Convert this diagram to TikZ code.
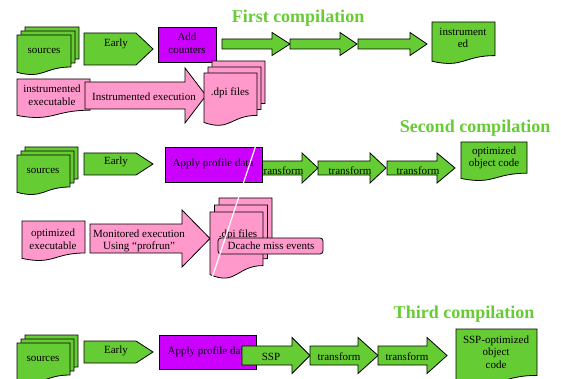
\documentclass[tikz,border=0pt]{standalone}
\usepackage{fontspec}
\setmainfont{Liberation Serif}
\definecolor{leaf}{RGB}{102,204,51}
\definecolor{purpl}{RGB}{204,0,255}
\definecolor{rose}{RGB}{255,153,204}

% document shape: style, x1, y1, x2, y2
\newcommand{\docshape}[5]{%
  \draw[#1] (#2,#3) -- (#4,#3) -- ({#4},{(#3)+0.8*((#5)-(#3))})
    .. controls ({((#2)+(#4))/2},{(#3)+0.8*((#5)-(#3))}) and ({((#2)+(#4))/2},{(#3)+1.107*((#5)-(#3))})
    .. ({#2},{(#3)+0.934*((#5)-(#3))}) -- cycle;}
% three stacked documents: style, x1, y1, x2, y2, dx, dy
\newcommand{\docstack}[7]{%
  \docshape{#1}{#2+2*#6}{#3-2*#7}{#4+2*#6}{#5-2*#7}
  \docshape{#1}{#2+#6}{#3-#7}{#4+#6}{#5-#7}
  \docshape{#1}{#2}{#3}{#4}{#5}}
% block arrow: style, x1, head x, tip x, y centre, body half, head half
\newcommand{\blockarrow}[7]{%
  \draw[#1] (#2,{#5-#6}) -- (#3,{#5-#6}) -- (#3,{#5-#7}) -- (#4,#5)
    -- (#3,{#5+#7}) -- (#3,{#5+#6}) -- (#2,{#5+#6}) -- cycle;}
% pentagon arrow: style, x1, y1, point x, tip x, y2
\newcommand{\pentarrow}[6]{%
  \draw[#1] (#2,#3) -- (#4,#3) -- (#5,{(#3+#6)/2}) -- (#4,#6) -- (#2,#6) -- cycle;}

\begin{document}
\begin{tikzpicture}[
  x=1pt, y=-1pt,
  greenshape/.style={draw=black, fill=leaf, line width=0.8pt},
  pinkshape/.style={draw=black, fill=rose, line width=0.8pt},
  purpshape/.style={draw=black, fill=purpl, line width=0.8pt},
  lbl/.style={align=center, inner sep=0pt, font=\fontsize{11}{12.5}\selectfont},
  title/.style={text=leaf, inner sep=0pt, font=\fontsize{18}{20}\selectfont\bfseries}
]
\useasboundingbox (0,0) rectangle (561,379);

% first compilation
\node[title] (t1) at (298,18) {First compilation};
\docstack{greenshape}{17}{35}{71}{75}{4}{4}
\node[lbl] (src1) at (44,51) {sources};
\pentarrow{greenshape}{84}{33}{136}{153}{65}
\node[lbl] (early1) at (116,44) {Early};
\draw[purpshape] (158,27) rectangle (216,62);
\node[lbl] (add) at (187,43) {Add\\counters};
\blockarrow{greenshape}{222}{272}{290}{44}{5}{11.5}
\blockarrow{greenshape}{290}{340}{357}{44}{5}{11.5}
\blockarrow{greenshape}{358}{410}{427}{44}{5}{11.5}
\docshape{greenshape}{432}{22}{495}{64}
\node[lbl] (instr) at (463,38) {instrument\\ed};

\docshape{pinkshape}{17}{79}{90}{118}
\node[lbl] (iexe) at (52,95) {instrumented\\executable};
\blockarrow{pinkshape}{85}{185}{206}{95.5}{13.5}{27.5}
\node[lbl] (iexec) at (144,97) {Instrumented execution};
\docstack{pinkshape}{204}{73}{257}{126}{4}{6}
\node[lbl] (dpi1) at (230,93) {.dpi files};

% second compilation
\node[title] (t2) at (475,128) {Second compilation};
\docstack{greenshape}{17}{155}{70}{195}{4}{4}
\node[lbl] (src2) at (43,171) {sources};
\pentarrow{greenshape}{84}{153}{136}{153}{175}
\node[lbl] (early2) at (116,162) {Early};
\blockarrow{greenshape}{255}{302}{318}{168}{7}{15}
\node[lbl] (tf21) at (282,171) {transform};
\draw[purpshape] (165,147) rectangle (262,182);
\node[lbl] (apply2) at (213,164) {Apply profile data};
\blockarrow{greenshape}{318}{370}{386}{168}{7}{15}
\node[lbl] (tf22) at (350,171) {transform};
\blockarrow{greenshape}{387}{437}{455}{168}{7}{15}
\node[lbl] (tf23) at (418,171) {transform};
\docshape{greenshape}{461}{142}{527}{181}
\node[lbl] (opt) at (494,158) {optimized\\object code};

\docshape{pinkshape}{22}{221}{85}{261}
\node[lbl] (oexe) at (53,239) {optimized\\executable};
\blockarrow{pinkshape}{90}{182}{210}{238.5}{14.5}{28.5}
\node[lbl] (mon) at (139,241) {Monitored execution\\Using “profrun”};
\docstack{pinkshape}{210}{212}{263}{279}{4.5}{7}
\node[lbl] (dpi2) at (238,235) {.dpi files};
\draw[pinkshape, rounded corners=3pt] (218,238) rectangle (323,254);
\node[lbl] (dcache) at (271,246) {Dcache miss events};
\draw[white, line width=1.2pt] (256,145) -- (212,278);

% third compilation
\node[title] (t3) at (464,314) {Third compilation};
\docstack{greenshape}{17}{343}{70}{383}{4}{4}
\node[lbl] (src3) at (43,359) {sources};
\pentarrow{greenshape}{84}{341}{136}{153}{363}
\node[lbl] (early3) at (116,351) {Early};
\draw[purpshape] (159,335) rectangle (256,369);
\node[lbl] (apply3) at (208,352) {Apply profile data};
\blockarrow{greenshape}{242}{292}{310}{355.5}{9.5}{18}
\node[lbl] (ssp) at (271,357) {SSP};
\blockarrow{greenshape}{310}{358}{378}{355.5}{9.5}{18}
\node[lbl] (tf31) at (339,357) {transform};
\blockarrow{greenshape}{378}{427}{447}{355.5}{9.5}{18}
\node[lbl] (tf32) at (407,357) {transform};
\docshape{greenshape}{456}{329}{537}{387}
\node[lbl] (sspopt) at (496,352) {SSP-optimized\\object\\code};
\end{tikzpicture}
\end{document}
